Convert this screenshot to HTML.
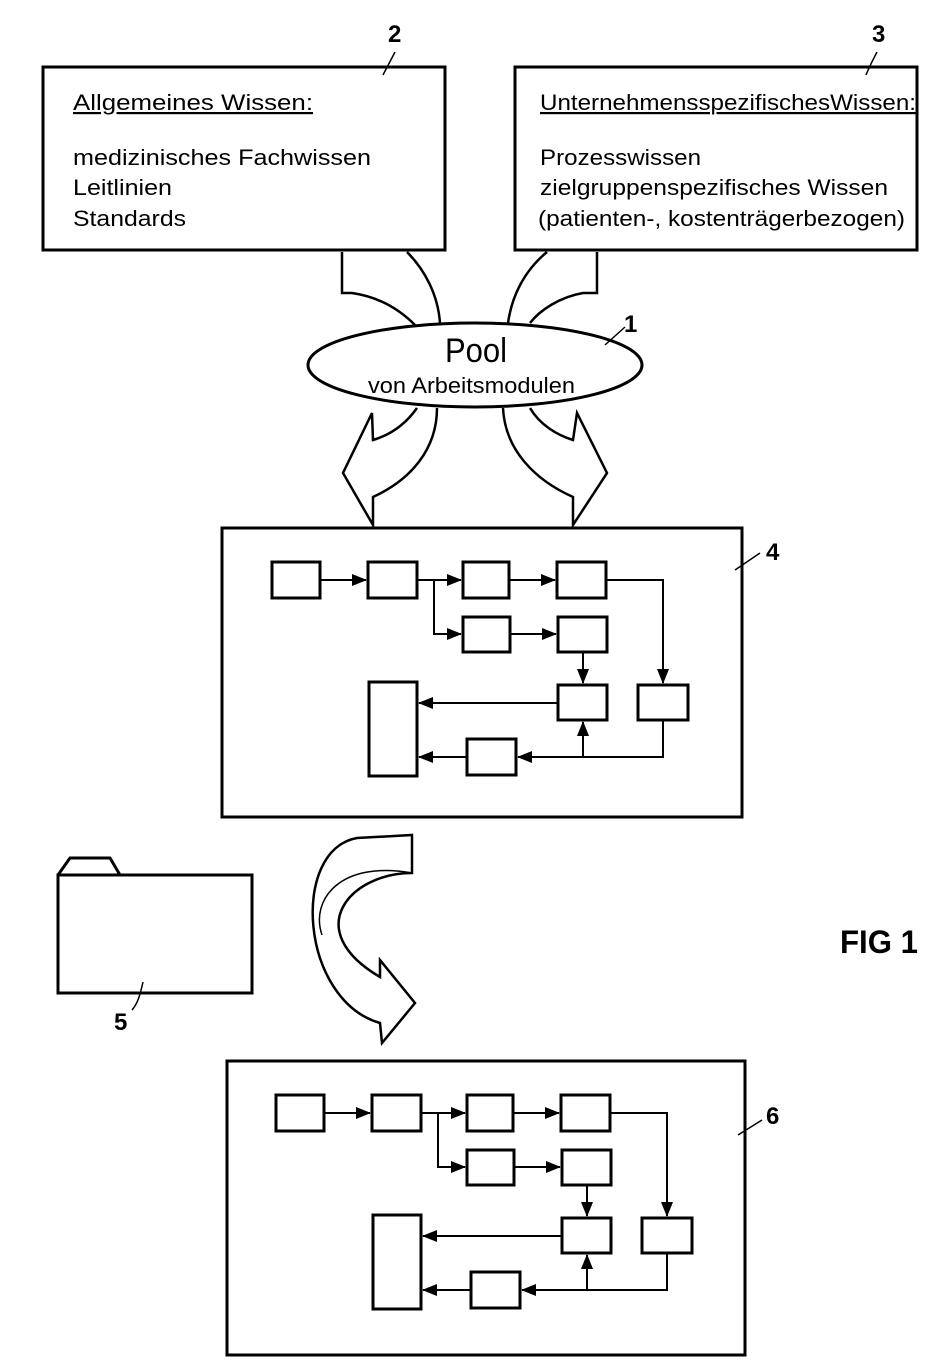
<!DOCTYPE html>
<html><head><meta charset="utf-8"><style>body{margin:0;background:#fff}svg{display:block}text{font-family:"Liberation Sans",sans-serif;fill:#000}</style></head>
<body>
<svg width="945" height="1370" viewBox="0 0 945 1370" xmlns="http://www.w3.org/2000/svg">
<defs>
<marker id="a" markerWidth="15" markerHeight="12" refX="14" refY="6" orient="auto" markerUnits="userSpaceOnUse"><path d="M0,0 L15,6 L0,12 Z" fill="#000"/></marker>
<g id="flow" fill="none" stroke="#000">
<g stroke-width="3">
<rect x="272" y="562" width="48" height="36"/>
<rect x="368" y="562" width="49" height="36"/>
<rect x="463" y="562" width="46" height="36"/>
<rect x="557" y="562" width="49" height="36"/>
<rect x="463" y="617" width="47" height="35"/>
<rect x="558" y="617" width="49" height="35"/>
<rect x="558" y="685" width="49" height="35"/>
<rect x="638" y="685" width="50" height="35"/>
<rect x="369" y="682" width="48" height="94"/>
<rect x="467" y="739" width="49" height="36"/>
</g>
<g stroke-width="2">
<path d="M320,580 H366" marker-end="url(#a)"/>
<path d="M417,580 H461" marker-end="url(#a)"/>
<path d="M434,580 V634 H461" marker-end="url(#a)"/>
<path d="M509,580 H555" marker-end="url(#a)"/>
<path d="M510,634 H556" marker-end="url(#a)"/>
<path d="M606,580 H663 V683" marker-end="url(#a)"/>
<path d="M583,652 V683" marker-end="url(#a)"/>
<path d="M558,703 H419" marker-end="url(#a)"/>
<path d="M663,720 V745"/>
<path d="M663,735 V757 H518" marker-end="url(#a)"/>
<path d="M583,757 V722" marker-end="url(#a)"/>
<path d="M467,757 H419" marker-end="url(#a)"/>
</g>
</g>
</defs>
<g fill="none" stroke="#000" stroke-width="3">
<rect x="43" y="67" width="402" height="183"/>
<rect x="515" y="67" width="402" height="183"/>
<rect x="222" y="528" width="520" height="289"/>
<rect x="227" y="1061" width="518" height="294"/>
<ellipse cx="475" cy="365" rx="167" ry="42"/>
<path d="M58,875 L70,858 L110,858 L120,875"/>
<rect x="58" y="875" width="194" height="118"/>
</g>
<g fill="none" stroke="#000" stroke-width="2.5">
<path d="M342,252 V293 H352 C380,297 400,310 415,325"/>
<path d="M407,252 C425,270 438,295 440,323"/>
<path d="M597,252 V293 H583 C560,297 540,310 530,323"/>
<path d="M547,252 C525,270 512,295 508,323"/>
<path d="M417,408 C405,425 390,435 373,440 L372,413 L343,473 L373,525 L373,497 C410,480 437,450 437,408"/>
<path d="M530,408 C540,425 557,435 573,440 L577,413 L607,473 L573,525 L573,497 C535,480 505,450 503,408"/>
<path d="M357,838 L412,835 L412,873 C350,873 300,930 380,977 L380,960 L415,1003 L382,1043 L380,1023 C300,1000 290,850 357,838 Z"/>
<path d="M412,873 C340,860 310,900 322,935" stroke-width="1.5"/>
</g>
<g fill="none" stroke="#000" stroke-width="1.5">
<path d="M383,75 C388,65 392,58 395,52"/>
<path d="M866,75 C870,65 874,58 877,52"/>
<path d="M605,345 L625,327"/>
<path d="M735,570 L760,553"/>
<path d="M738,1135 L762,1120"/>
<path d="M143,982 C140,995 138,1003 132,1010"/>
</g>
<use href="#flow"/>
<use href="#flow" transform="translate(4,533)"/>
<g font-size="22">
<text x="73" y="110" textLength="240" lengthAdjust="spacingAndGlyphs" text-decoration="underline">Allgemeines Wissen:</text>
<text x="73" y="165" textLength="298" lengthAdjust="spacingAndGlyphs">medizinisches Fachwissen</text>
<text x="73" y="195" textLength="99" lengthAdjust="spacingAndGlyphs">Leitlinien</text>
<text x="73" y="226" textLength="113" lengthAdjust="spacingAndGlyphs">Standards</text>
<text x="540" y="110" textLength="376" lengthAdjust="spacingAndGlyphs" text-decoration="underline">UnternehmensspezifischesWissen:</text>
<text x="540" y="165" textLength="161" lengthAdjust="spacingAndGlyphs">Prozesswissen</text>
<text x="540" y="195" textLength="348" lengthAdjust="spacingAndGlyphs">zielgruppenspezifisches Wissen</text>
<text x="538" y="226" textLength="367" lengthAdjust="spacingAndGlyphs">(patienten-, kostenträgerbezogen)</text>
<text x="368" y="393" textLength="207" lengthAdjust="spacingAndGlyphs">von Arbeitsmodulen</text>
</g>
<text x="445" y="362" font-size="34" textLength="62" lengthAdjust="spacingAndGlyphs">Pool</text>
<g font-size="24" font-weight="bold">
<text x="388" y="42">2</text>
<text x="872" y="42">3</text>
<text x="624" y="332">1</text>
<text x="766" y="560">4</text>
<text x="766" y="1124">6</text>
<text x="114" y="1030">5</text>
</g>
<text x="840" y="953" font-size="32" font-weight="bold" textLength="78" lengthAdjust="spacingAndGlyphs">FIG 1</text>
</svg>
</body></html>
